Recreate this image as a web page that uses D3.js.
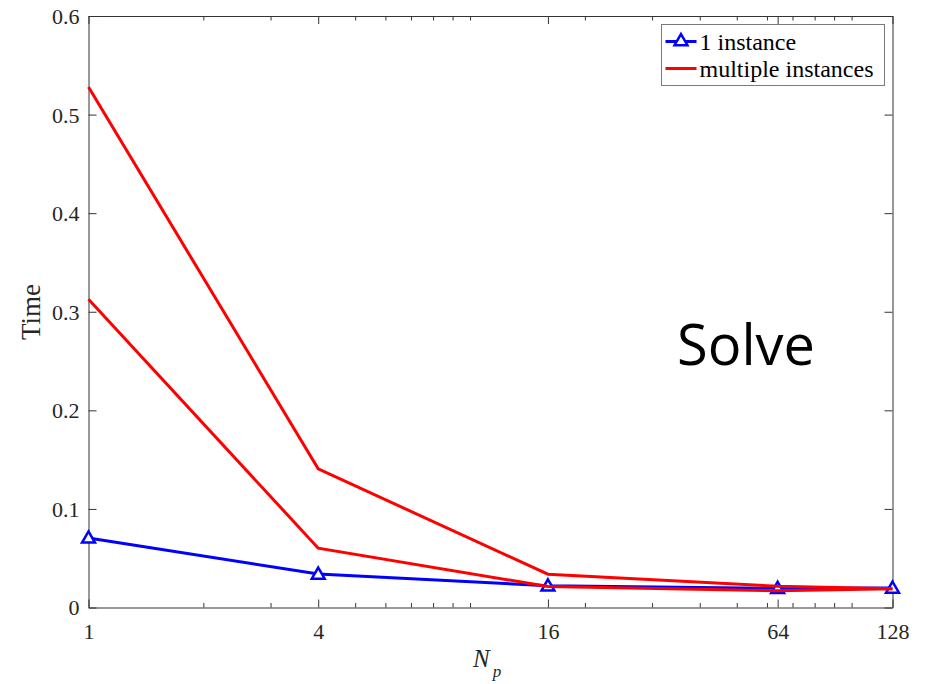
<!DOCTYPE html>
<html>
  <head>
    <meta charset="utf-8">
    <script src="https://d3js.org/d3.v7.min.js"></script>
    <title>Solve time</title>
    <style>
      body {
        margin: 0px;
        background: #ffffff;
        overflow: hidden;
      }
      svg {
        display: block;
      }
      .domain {
        stroke: #333333;
      }
      .tick line {
        stroke: #333333;
      }
    </style>
  </head>
  <body>
    <svg width="925" height="684"></svg>
    <script>
      const np = [1, 4, 16, 64, 128];
      const oneInstance = [0.0706, 0.034, 0.022, 0.0195, 0.0198];
      const multiUpper = [0.528, 0.1406, 0.0338, 0.0215, 0.019];
      const multiLower = [0.3126, 0.0602, 0.0213, 0.017, 0.019];
      const xTicks = [1, 4, 16, 64, 128];
      const xMinorTicks = [2, 3, 5, 6, 7, 8, 9, 10, 20, 30, 40, 50, 60, 70, 80, 90, 100];
      const yTicks = [0, 0.1, 0.2, 0.3, 0.4, 0.5, 0.6];

      const serif = '"Liberation Serif", "Times New Roman", serif';
      const margin = { left: 88.5, right: 32.5, top: 16, bottom: 76.5 };
      const svg = d3.select('svg');
      const width = +svg.attr('width');
      const height = +svg.attr('height');
      const innerWidth = width - margin.left - margin.right;
      const innerHeight = height - margin.top - margin.bottom;

      const g = svg.append('g')
          .attr('transform', `translate(${margin.left},${margin.top})`);

      const xScale = d3.scaleLog().base(2)
        .domain([1, 128])
        .range([0, innerWidth]);
      const yScale = d3.scaleLinear()
        .domain([0, 0.6])
        .range([innerHeight, 0]);

      // tick-only axes (minor ticks, top and right box edges)
      const tickOnly = (sel, axis) => {
        sel.call(axis);
        sel.selectAll('text').remove();
        return sel;
      };

      tickOnly(g.append('g').attr('transform', `translate(0,${innerHeight})`),
        d3.axisBottom(xScale).tickValues(xMinorTicks).tickSize(-4.5))
        .select('.domain').remove();
      tickOnly(g.append('g'),
        d3.axisTop(xScale).tickValues(xMinorTicks).tickSize(-4.5))
        .select('.domain').remove();
      tickOnly(g.append('g'),
        d3.axisTop(xScale).tickValues(xTicks).tickSize(-8).tickSizeOuter(0));
      tickOnly(g.append('g').attr('transform', `translate(${innerWidth},0)`),
        d3.axisRight(yScale).tickValues(yTicks).tickSize(-8).tickSizeOuter(0));

      const xAxisG = g.append('g')
          .attr('transform', `translate(0,${innerHeight})`)
          .call(d3.axisBottom(xScale).tickValues(xTicks).tickSize(-8).tickSizeOuter(0)
            .tickPadding(16).tickFormat(d3.format('d')));
      xAxisG.selectAll('text').attr('dy', '0.72em');

      const yAxisG = g.append('g')
          .call(d3.axisLeft(yScale).tickValues(yTicks).tickSize(-8).tickSizeOuter(0)
            .tickPadding(9).tickFormat(d => d === 0 ? '0' : d3.format('.1f')(d)));
      yAxisG.selectAll('text').attr('dy', '0.34em');

      g.selectAll('.tick text')
          .attr('font-family', null)
          .style('font-family', serif)
          .style('font-size', '22px')
          .style('fill', '#262626');

      const line = d3.line()
        .x((d, i) => xScale(np[i]))
        .y(d => yScale(d));

      const triangle = d3.symbol().type(d3.symbolTriangle).size(72);

      g.append('path')
          .attr('d', line(oneInstance))
          .attr('fill', 'none')
          .attr('stroke', '#0000ff')
          .attr('stroke-width', 3);
      g.selectAll('.marker').data(oneInstance)
        .enter().append('path')
          .attr('class', 'marker')
          .attr('d', triangle)
          .attr('transform', (d, i) => `translate(${xScale(np[i])},${yScale(d) + 1})`)
          .attr('fill', '#ffffff')
          .attr('stroke', '#0000ff')
          .attr('stroke-width', 2.5);

      [multiUpper, multiLower].forEach(series => {
        g.append('path')
            .attr('d', line(series))
            .attr('fill', 'none')
            .attr('stroke', '#ff0000')
            .attr('stroke-width', 3);
      });

      // axis labels
      svg.append('text')
          .attr('transform', 'translate(40,312) rotate(-90)')
          .attr('text-anchor', 'middle')
          .style('font-family', serif)
          .style('font-size', '27px')
          .style('fill', '#262626')
          .text('Time');

      const xl = svg.append('text')
          .attr('x', 473)
          .attr('y', 667)
          .style('font-family', serif)
          .style('font-size', '25px')
          .style('font-style', 'italic')
          .style('fill', '#262626');
      xl.append('tspan').text('N');
      xl.append('tspan').attr('dx', 3).attr('dy', 10).style('font-size', '17px').text('p');

      // legend
      const legend = svg.append('g').attr('transform', 'translate(661.5,24.5)');
      legend.append('rect')
          .attr('width', 223)
          .attr('height', 61)
          .attr('fill', '#ffffff')
          .attr('stroke', '#7a7a7a');
      legend.append('line')
          .attr('x1', 4).attr('x2', 35).attr('y1', 17).attr('y2', 17)
          .attr('stroke', '#0000ff').attr('stroke-width', 3);
      legend.append('path')
          .attr('d', triangle)
          .attr('transform', 'translate(19.5,17)')
          .attr('fill', '#ffffff')
          .attr('stroke', '#0000ff')
          .attr('stroke-width', 2.5);
      legend.append('line')
          .attr('x1', 4).attr('x2', 35).attr('y1', 44).attr('y2', 44)
          .attr('stroke', '#ff0000').attr('stroke-width', 3);
      legend.selectAll('.legend-text').data(['1 instance', 'multiple instances'])
        .enter().append('text')
          .attr('class', 'legend-text')
          .attr('x', 38)
          .attr('y', (d, i) => 25 + i * 27)
          .style('font-family', serif)
          .style('font-size', '24px')
          .style('fill', '#000000')
          .text(d => d);

      svg.append('text')
          .attr('x', 677)
          .attr('y', 365)
          .style('font-family', '"Open Sans", sans-serif')
          .style('font-size', '56px')
          .style('fill', '#000000')
          .text('Solve');
    </script>
  </body>
</html>
